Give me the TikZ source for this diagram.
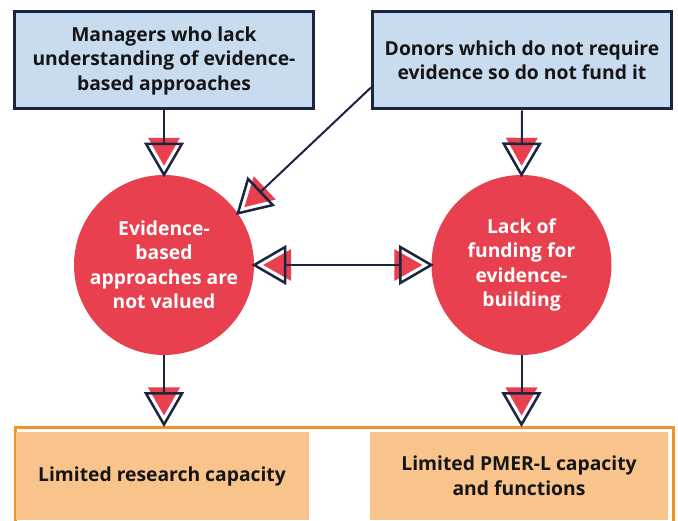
\documentclass[tikz,border=0pt]{standalone}
\usepackage{fontspec}
\setmainfont{Open Sans}
\usepackage{tikz}
\usetikzlibrary{decorations.markings,calc}
\usepackage{xcolor}
\definecolor{navy}{HTML}{1B2541}
\definecolor{paleblue}{HTML}{C9DBEF}
\definecolor{causered}{HTML}{E8404E}
\definecolor{framebrown}{HTML}{F39328}
\definecolor{peach}{HTML}{F9C48C}
\definecolor{inkblack}{HTML}{151515}
\newcommand{\diagfont}{\fontsize{19.3}{24.5}\selectfont\bfseries}
\tikzstyle{causebox} = [draw=navy, line width=3pt, fill=paleblue, rectangle, minimum width=299pt, minimum height=97pt, align=center, text=inkblack, font=\diagfont]
\tikzstyle{effectcircle} = [circle, fill=causered, minimum size=180pt, align=center, text=white, font=\diagfont, inner sep=0pt]
\tikzstyle{outcomeframe} = [draw=framebrown, line width=3pt, rectangle]
\tikzstyle{outcomebox} = [fill=peach, rectangle, minimum height=88pt, align=center, text=inkblack, font=\diagfont]
\tikzset{
  head/.pic={
    \fill[white] (-31,-18) -- (-31,18) -- (0,0) -- cycle;
    \fill[causered] (-37,-16) -- (-37,16) -- (-9,0) -- cycle;
    \draw[navy, line width=2pt] (-37,0) -- (-31,0);
    \draw[navy, line width=2.5pt] (-31,-18) -- (-31,18) -- (0,0) -- cycle;
  },
  causal/.style={draw=navy, line width=2pt,
    postaction={decorate, decoration={markings, mark=at position 1 with {\pic[transform shape]{head};}}}},
  mutual/.style={causal,
    postaction={decorate, decoration={markings, mark=at position 0 with {\pic[transform shape, rotate=180]{head};}}}}
}

\begin{document}
\begin{tikzpicture}[x=1pt,y=-1pt]
\clip (0,0) rectangle (678,521);
\fill[white] (0,0) rectangle (678,521);

% causes
\node[causebox] (managers) at (164,60.5) {Managers who lack\\understanding of evidence-\\based approaches};
\node[causebox] (donors) at (522,60.5) {Donors which do not require\\evidence so do not fund it};

% effects
\node[effectcircle] (valued) at (164,265) {Evidence-\\based\\approaches are\\not valued};
\node[effectcircle] (funding) at (521.5,265) {Lack of\\funding for\\evidence-\\building};

% outcomes
\node[outcomeframe, minimum width=658pt, minimum height=120pt, anchor=north west] (outcomes) at (13.5,426.5) {};
\node[outcomebox, minimum width=293pt] (research) at (162,476) {Limited research capacity};
\node[outcomebox, minimum width=298pt] (pmer) at (519,476) {Limited PMER-L capacity\\and functions};

\draw[causal] (managers.south) -- (valued.north);
\draw[causal] (donors.south) -- (funding.north);
\draw[causal] ([yshift=-27pt]donors.west) -- (valued.35);
\draw[mutual] (valued.east) -- (funding.west);
\draw[causal] (valued.south) -- ($(valued.south |- outcomes.north)+(0,-2)$);
\draw[causal] (funding.south) -- ($(funding.south |- outcomes.north)+(0,-2)$);
\end{tikzpicture}
\end{document}
